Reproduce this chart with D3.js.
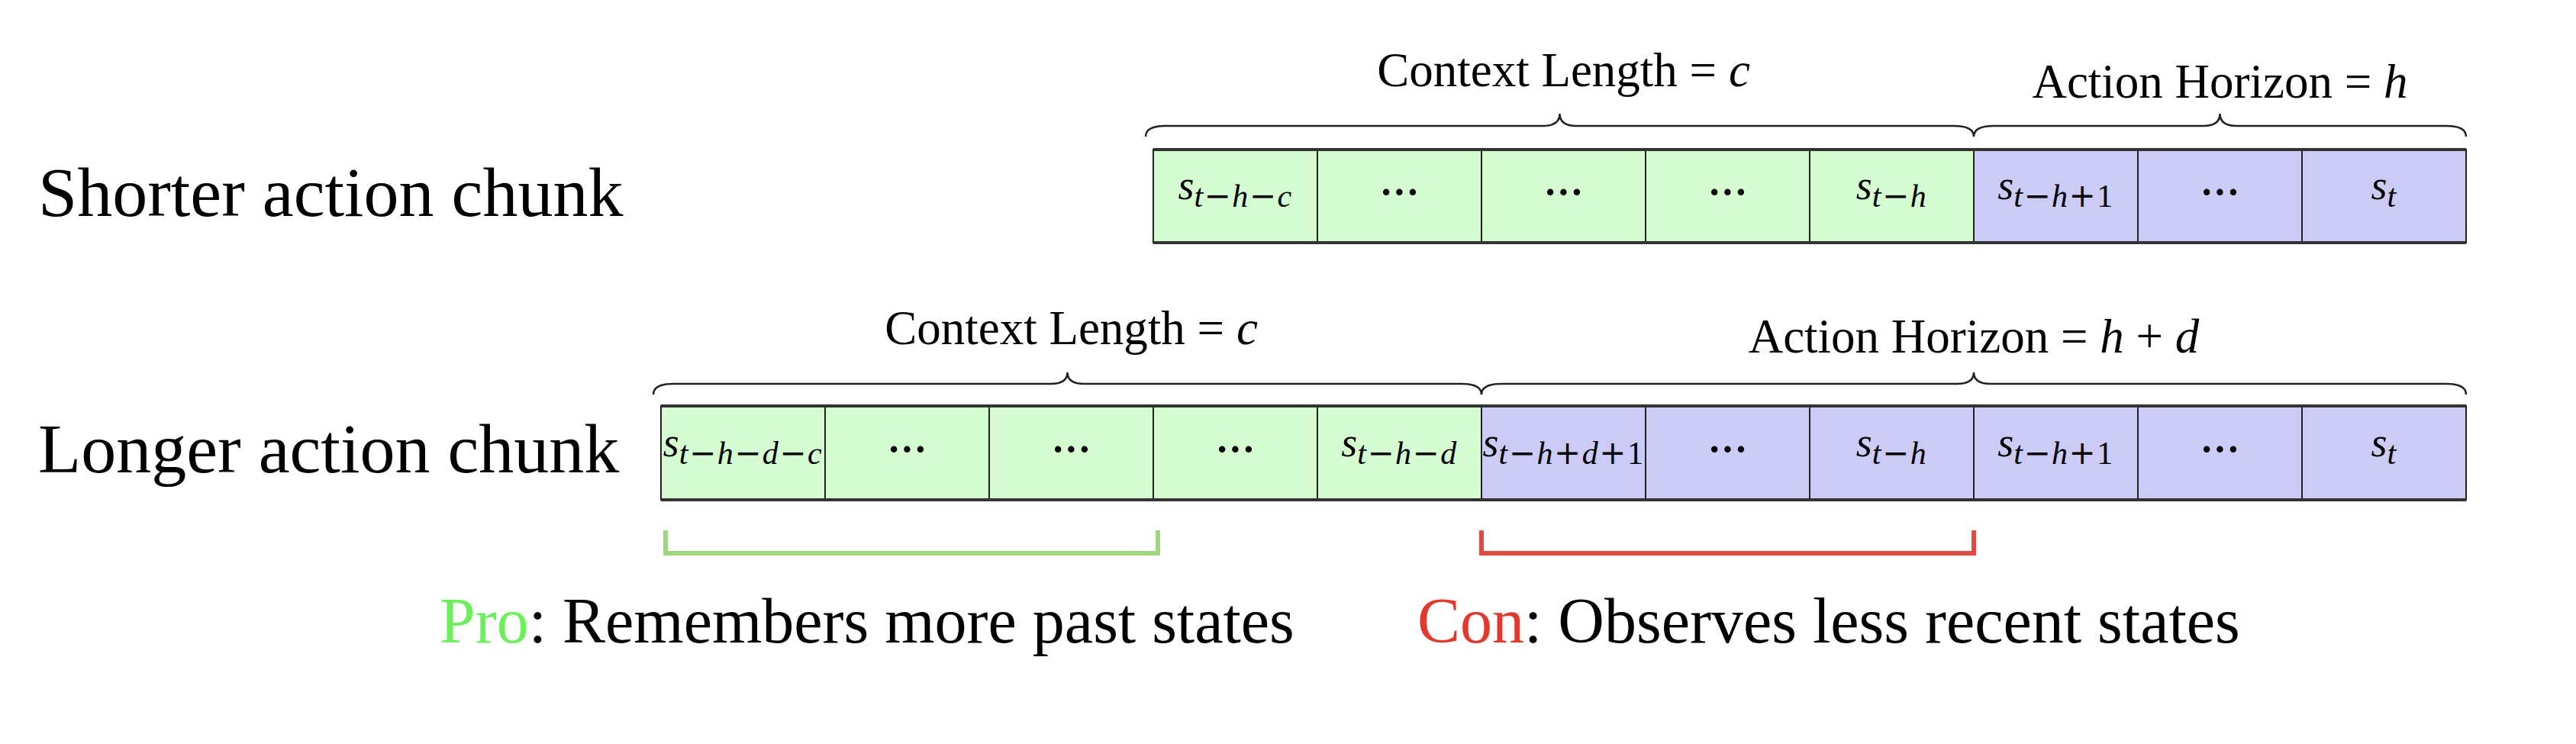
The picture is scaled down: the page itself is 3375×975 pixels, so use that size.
<!DOCTYPE html>
<html>
<head>
<meta charset="utf-8">
<script src="https://cdn.jsdelivr.net/npm/d3@7"></script>
<style>
  body { margin: 0; background: #fff; }
  text { font-family: "Liberation Serif", "Times New Roman", serif; }
</style>
</head>
<body>
<div id="chart"></div>
<script>
// row titles
var rowNames = ["Shorter action chunk", "Longer action chunk"];

// cell subscripts ("⋯" = dots cell), and which part they belong to
var shortCells = ["t−h−c", "⋯", "⋯", "⋯", "t−h", "t−h+1", "⋯", "t"];
var shortKinds = ["ctx", "ctx", "ctx", "ctx", "ctx", "act", "act", "act"];
var shortStart = 3;

var longCells = ["t−h−d−c", "⋯", "⋯", "⋯", "t−h−d", "t−h+d+1", "⋯", "t−h", "t−h+1", "⋯", "t"];
var longKinds = ["ctx", "ctx", "ctx", "ctx", "ctx", "act", "act", "act", "act", "act", "act"];
var longStart = 0;

// braces: [from slot, to slot, label, math part]
var shortBraces = [[3, 8, "Context Length = ", "c"], [8, 11, "Action Horizon = ", "h"]];
var longBraces = [[0, 5, "Context Length = ", "c"], [5, 11, "Action Horizon = ", "h + d"]];

// pro / con brackets under the long row
var notes = [
  {from: 0, to: 3, head: "Pro", rest: ": Remembers more past states", color: "#6cf05a", line: "#9ed77c"},
  {from: 5, to: 8, head: "Con", rest: ": Observes less recent states", color: "#e4382c", line: "#e24b42"}
];

var W = 3375, H = 975;
var fills = {ctx: "#d5fbd0", act: "#cbcbf6"};

var svg = d3.select("#chart").append("svg")
  .attr("width", W).attr("height", H);

var x = d3.scaleLinear().domain([0, 11]).range([866, 3231]);

var rows = [
  {name: rowNames[0], cells: shortCells, kinds: shortKinds, start: shortStart, braces: shortBraces,
   top: 196, bottom: 318, nameY: 283, braceY: 165, braceEnd: 179, braceTip: 149, labelY: [113, 128]},
  {name: rowNames[1], cells: longCells, kinds: longKinds, start: longStart, braces: longBraces,
   top: 532, bottom: 655, nameY: 619, braceY: 503, braceEnd: 517, braceTip: 488, labelY: [451, 462]}
];

function bracePath(x0, x1, yLine, yEnd, yTip) {
  var xm = (x0 + x1) / 2, r = 26, rc = 22;
  return "M" + x0 + "," + yEnd +
    " Q" + x0 + "," + yLine + " " + (x0 + r) + "," + yLine +
    " L" + (xm - rc) + "," + yLine +
    " Q" + xm + "," + yLine + " " + xm + "," + yTip +
    " Q" + xm + "," + yLine + " " + (xm + rc) + "," + yLine +
    " L" + (x1 - r) + "," + yLine +
    " Q" + x1 + "," + yLine + " " + x1 + "," + yEnd;
}

// math text: letters italic, operators/digits upright
function addMath(sel, str, wideOps) {
  str.split("").forEach(function(ch) {
    if (ch === " ") { sel.append("tspan").text(" "); return; }
    var sp = sel.append("tspan")
      .attr("font-style", /[a-z]/.test(ch) ? "italic" : "normal")
      .text(ch);
    if (wideOps && (ch === "−" || ch === "+")) sp.attr("font-family", "DejaVu Serif");
  });
}

rows.forEach(function(row) {
  var g = svg.append("g");
  var mid = (row.top + row.bottom) / 2;

  g.append("text")
    .attr("x", 50).attr("y", row.nameY)
    .attr("font-size", 92)
    .attr("fill", "#000")
    .text(row.name);

  // cells
  var cell = g.selectAll("g.cell")
    .data(row.cells)
    .enter().append("g").attr("class", "cell");

  cell.append("rect")
    .attr("x", function(d, i) { return x(row.start + i); })
    .attr("y", row.top)
    .attr("width", function(d, i) { return x(row.start + i + 1) - x(row.start + i); })
    .attr("height", row.bottom - row.top)
    .attr("fill", function(d, i) { return fills[row.kinds[i]]; })
    .attr("stroke", "#222")
    .attr("stroke-width", 2);

  cell.each(function(d, i) {
    var cx = (x(row.start + i) + x(row.start + i + 1)) / 2;
    var t = d3.select(this).append("text")
      .attr("x", cx)
      .attr("text-anchor", "middle")
      .attr("fill", "#000");
    if (d === "⋯") {
      t.attr("y", mid + 12).attr("font-size", 52).attr("font-weight", "bold").text("···");
    } else {
      t.attr("y", mid + 4);
      t.append("tspan").attr("font-size", 54).attr("font-style", "italic").text("s");
      var sub = t.append("tspan").attr("font-size", 42).attr("dy", 10).attr("letter-spacing", 1.5);
      addMath(sub, d, true);
    }
  });

  // thicker top and bottom border
  [row.top, row.bottom].forEach(function(yy) {
    g.append("line")
      .attr("x1", x(row.start)).attr("x2", x(11))
      .attr("y1", yy).attr("y2", yy)
      .attr("stroke", "#333").attr("stroke-width", 4);
  });

  // braces + labels
  row.braces.forEach(function(b, k) {
    var x0 = x(b[0]) - (k === 0 ? 10 : 0), x1 = x(b[1]);
    g.append("path")
      .attr("d", bracePath(x0, x1, row.braceY, row.braceEnd, row.braceTip))
      .attr("fill", "none")
      .attr("stroke", "#222")
      .attr("stroke-width", 2.5);
    var lab = g.append("text")
      .attr("x", (x(b[0]) + x(b[1])) / 2)
      .attr("y", row.labelY[k])
      .attr("text-anchor", "middle")
      .attr("font-size", 63)
      .attr("fill", "#000");
    lab.append("tspan").text(b[2]);
    addMath(lab, b[3], false);
  });
});

// pro / con brackets and notes
notes.forEach(function(n, i) {
  var pad = i === 0 ? 6 : 0;
  var x0 = x(n.from) + pad, x1 = x(n.to) + pad;
  svg.append("path")
    .attr("d", "M" + x0 + ",695 L" + x0 + ",725 L" + x1 + ",725 L" + x1 + ",695")
    .attr("fill", "none")
    .attr("stroke", n.line)
    .attr("stroke-width", 6);
});

var noteX = [576, 1857];
notes.forEach(function(n, i) {
  var t = svg.append("text")
    .attr("x", noteX[i]).attr("y", 842)
    .attr("font-size", 84);
  t.append("tspan").attr("fill", n.color).text(n.head);
  t.append("tspan").attr("fill", "#000").text(n.rest);
});
</script>
</body>
</html>
